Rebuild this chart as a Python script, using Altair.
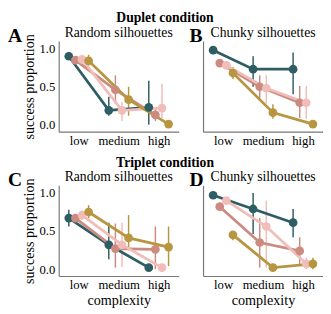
import altair as alt
import pandas as pd

FONT = "Liberation Serif"
levels = ["low", "medium", "high"]
series = ["group 1", "group 2", "group 3", "group 4"]
colors = ["#2E5E63", "#CB8B80", "#F0BDB8", "#B8963F"]

# Panel A: Duplet condition, random silhouettes (one row per series)
a_mean = [[0.90, 0.19, 0.23], [0.85, 0.46, 0.13], [0.86, 0.19, 0.22], [0.84, 0.33, 0.01]]
a_lo = [[0.86, 0.12, 0.00], [0.80, 0.28, 0.05], [0.82, 0.05, 0.09], [0.78, 0.12, 0.00]]
a_hi = [[0.95, 0.37, 0.58], [0.90, 0.65, 0.22], [0.90, 0.30, 0.54], [0.92, 0.50, 0.03]]

# Panel B: Duplet condition, chunky silhouettes
b_mean = [[0.98, 0.73, 0.73], [0.81, 0.50, 0.29], [0.78, 0.48, 0.29], [0.68, 0.16, 0.01]]
b_lo = [[0.96, 0.50, 0.40], [0.77, 0.35, 0.09], [0.74, 0.28, 0.08], [0.60, 0.08, 0.00]]
b_hi = [[1.00, 0.90, 0.95], [0.85, 0.65, 0.51], [0.82, 0.65, 0.51], [0.76, 0.27, 0.03]]

# Panel C: Triplet condition, random silhouettes
c_mean = [[0.67, 0.32, 0.02], [0.67, 0.27, 0.26], [0.71, 0.32, 0.02], [0.75, 0.41, 0.29]]
c_lo = [[0.56, 0.13, 0.00], [0.61, 0.02, 0.00], [0.65, 0.03, 0.00], [0.67, 0.25, 0.04]]
c_hi = [[0.78, 0.61, 0.04], [0.72, 0.60, 0.56], [0.77, 0.61, 0.05], [0.84, 0.71, 0.56]]

# Panel D: Triplet condition, chunky silhouettes
d_mean = [[0.97, 0.79, 0.61], [0.82, 0.35, 0.24], [0.90, 0.56, 0.07], [0.45, 0.02, 0.07]]
d_lo = [[0.94, 0.46, 0.42], [0.77, 0.02, 0.05], [0.86, 0.02, 0.00], [0.38, 0.00, 0.00]]
d_hi = [[1.00, 1.00, 0.79], [0.87, 0.67, 0.42], [0.94, 0.90, 0.15], [0.50, 0.05, 0.15]]

DODGE = 0.165
W, H = 123, 93


def text_layer(txt, x, y, size, weight, align):
    return alt.Chart(pd.DataFrame({"t": [txt]})).mark_text(
        font=FONT, fontSize=size, fontWeight=weight, align=align,
        baseline="alphabetic", color="black"
    ).encode(text="t:N", x=alt.value(x), y=alt.value(y))


def panel(means, los, his, title, letter, show_y, show_x, row_title=None):
    rows = []
    for si, name in enumerate(series):
        for li, lev in enumerate(levels):
            rows.append(dict(series=name, order=si, level=lev, idx=li,
                             mean=means[si][li], lo=los[si][li], hi=his[si][li]))
    df = pd.DataFrame(rows)
    base = alt.Chart(df).transform_calculate(
        xpos=f"datum.idx + (datum.order - 1.5) * {DODGE}"
    )
    xaxis_kw = dict(values=[0, 1, 2], labelExpr=f"{levels}[datum.value]",
                    labelPadding=3, titlePadding=2)
    if show_x:
        xaxis_kw["title"] = "complexity"
    else:
        xaxis_kw["title"] = None
    yaxis_kw = dict(values=[0, 0.5, 1.0], format=".1f", labelPadding=4, titlePadding=3)
    if show_y:
        yaxis_kw["title"] = "success proportion"
    else:
        yaxis_kw["title"] = None
        yaxis_kw["labels"] = False
    x = alt.X("xpos:Q", scale=alt.Scale(domain=[-0.5, 2.5], nice=False, zero=False),
              axis=alt.Axis(**xaxis_kw))
    yscale = alt.Scale(domain=[-0.09, 1.1], nice=False, zero=False)
    color = alt.Color("series:N", scale=alt.Scale(domain=series, range=colors), legend=None)
    rules = base.mark_rule(strokeWidth=1.5).encode(
        x=x, y=alt.Y("lo:Q", scale=yscale, axis=alt.Axis(**yaxis_kw)), y2="hi:Q", color=color
    )
    lines = base.mark_line(strokeWidth=2.8).encode(
        x=x, y=alt.Y("mean:Q", scale=yscale), color=color, detail="series:N",
        order="idx:Q"
    )
    points = base.mark_circle(size=80, opacity=1).encode(
        x=x, y=alt.Y("mean:Q", scale=yscale), color=color
    )
    layers = [rules, lines, points,
              text_layer(letter, -52 if show_y else -14, 1, 20, "bold", "left"),
              text_layer(title, W / 2, -4, 14, "normal", "center")]
    if row_title:
        layers.append(text_layer(row_title, 109, -19, 14, "bold", "center"))
    return alt.layer(*layers).properties(width=W, height=H)


pA = panel(a_mean, a_lo, a_hi, "Random silhouettes", "A", True, False, "Duplet condition")
pB = panel(b_mean, b_lo, b_hi, "Chunky silhouettes", "B", False, False)
pC = panel(c_mean, c_lo, c_hi, "Random silhouettes", "C", True, True, "Triplet condition")
pD = panel(d_mean, d_lo, d_hi, "Chunky silhouettes", "D", False, True)

row1 = alt.hconcat(pA, pB, spacing=25, bounds="flush")
row2 = alt.hconcat(pC, pD, spacing=25, bounds="flush")

chart = alt.vconcat(row1, row2, spacing=9).properties(
    padding={"left": 0, "top": 0, "right": 0, "bottom": 0}
).configure_view(stroke=None).configure_axis(
    labelFont=FONT, titleFont=FONT, labelFontSize=13, titleFontSize=14.5,
    titleFontWeight="normal", labelColor="black", titleColor="black",
    domainColor="#777777", domainWidth=1.2, ticks=False, grid=False
)

chart.save("out.html", embed_options={"renderer": "svg", "actions": False})
